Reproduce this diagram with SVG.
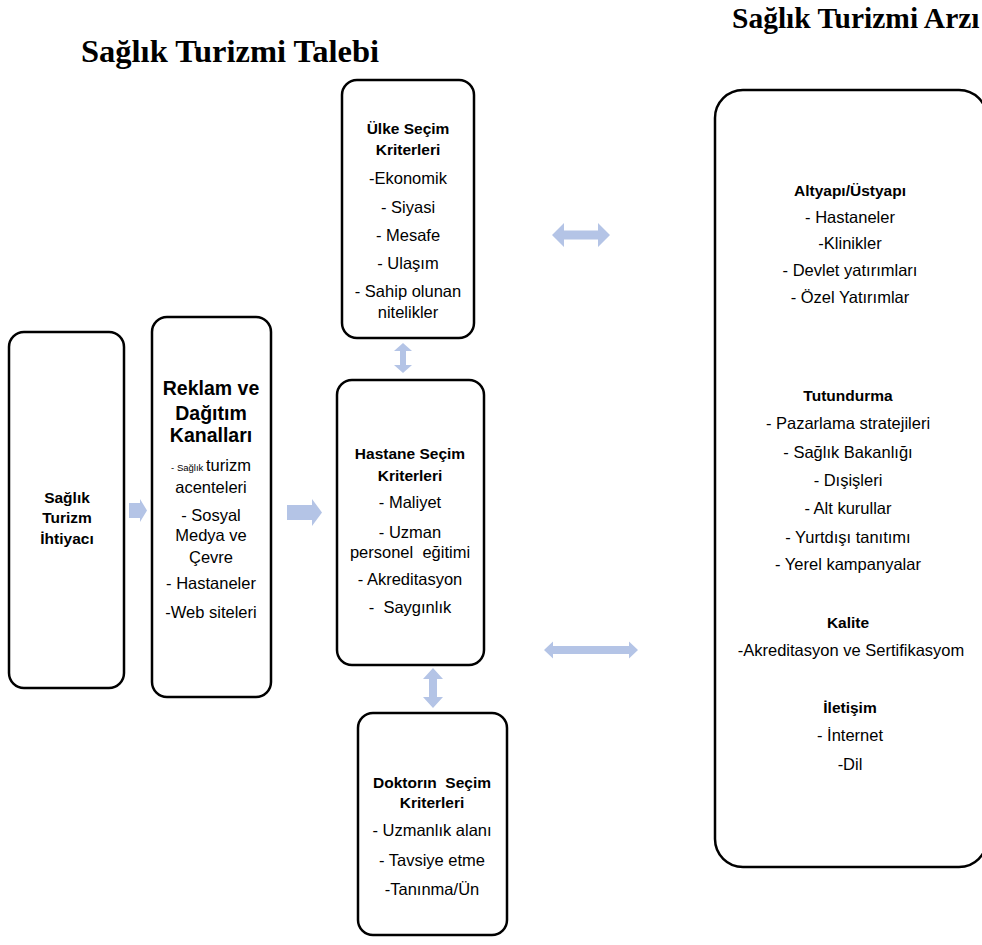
<svg xmlns="http://www.w3.org/2000/svg" width="982" height="945" viewBox="0 0 982 945">
<style>
.box{fill:#fff;stroke:#000;stroke-width:2.5}
.t{font-family:"Liberation Sans",Arial,sans-serif;font-size:16.5px;text-anchor:middle;fill:#000}
.b{font-family:"Liberation Sans",Arial,sans-serif;font-size:15.5px;font-weight:bold;text-anchor:middle;fill:#000}
.bl{font-size:19.5px}
.h{font-family:"Liberation Serif","Times New Roman",serif;font-weight:bold;fill:#000}
.arr{fill:#B4C4E6}
</style>
<rect width="982" height="945" fill="#fff"/>
<text class="h" x="81" y="62" font-size="32.5">Sağlık Turizmi Talebi</text>
<text class="h" x="732" y="28" font-size="29.5">Sağlık Turizmi Arzı</text>

<g id="connectors">
<polygon class="arr" points="129,503 140,503 140,499 147,510.5 140,522 140,518 129,518"/>
<polygon class="arr" points="287,505 312,505 312,499 322,512.5 312,526 312,520 287,520"/>
<polygon class="arr" points="552,235 564,223 564,230.5 598,230.5 598,223 610,235 598,247 598,239.5 564,239.5 564,247"/>
<polygon class="arr" points="544,650 553,641.5 553,646 629,646 629,641.5 638,650 629,658.5 629,654 553,654 553,658.5"/>
<polygon class="arr" points="403,343 412,351 406,351 406,365 412,365 403,373 394,365 400,365 400,351 394,351"/>
<polygon class="arr" points="433,668 443,679 437,679 437,697 443,697 433,708 423,697 429,697 429,679 423,679"/>
</g>

<g id="ihtiyac">
<rect class="box" x="9" y="332" width="115" height="356" rx="15"/>
<text class="b" x="67" y="503">Sağlık</text>
<text class="b" x="67" y="523">Turizm</text>
<text class="b" x="67" y="544">İhtiyacı</text>
</g>

<g id="reklam">
<rect class="box" x="152" y="317" width="119" height="380" rx="15"/>
<text class="b bl" x="211" y="395">Reklam ve</text>
<text class="b bl" x="211" y="420">Dağıtım</text>
<text class="b bl" x="211" y="442">Kanalları</text>
<text class="t" x="211" y="471"><tspan font-size="9.5">- Sağlık </tspan>turizm</text>
<text class="t" x="211" y="493">acenteleri</text>
<text class="t" x="211" y="521">- Sosyal</text>
<text class="t" x="211" y="541">Medya ve</text>
<text class="t" x="211" y="563">Çevre</text>
<text class="t" x="211" y="589">- Hastaneler</text>
<text class="t" x="211" y="618">-Web siteleri</text>
</g>

<g id="ulke">
<rect class="box" x="342" y="80" width="132" height="258" rx="15"/>
<text class="b" x="408" y="134">Ülke Seçim</text>
<text class="b" x="408" y="155">Kriterleri</text>
<text class="t" x="408" y="184">-Ekonomik</text>
<text class="t" x="408" y="213">- Siyasi</text>
<text class="t" x="408" y="241">- Mesafe</text>
<text class="t" x="408" y="269">- Ulaşım</text>
<text class="t" x="408" y="297">- Sahip olunan</text>
<text class="t" x="408" y="318">nitelikler</text>
</g>

<g id="hastane">
<rect class="box" x="337" y="380" width="147" height="285" rx="15"/>
<text class="b" x="410" y="459">Hastane Seçim</text>
<text class="b" x="410" y="481">Kriterleri</text>
<text class="t" x="410" y="508">- Maliyet</text>
<text class="t" x="410" y="538">- Uzman</text>
<text class="t" x="410" y="558" xml:space="preserve">personel  eğitimi</text>
<text class="t" x="410" y="585">- Akreditasyon</text>
<text class="t" x="410" y="613" xml:space="preserve">-  Saygınlık</text>
</g>

<g id="doktor">
<rect class="box" x="358" y="713" width="149" height="222" rx="15"/>
<text class="b" x="432" y="788" xml:space="preserve">Doktorın  Seçim</text>
<text class="b" x="432" y="808">Kriterleri</text>
<text class="t" x="432" y="836">- Uzmanlık alanı</text>
<text class="t" x="432" y="866">- Tavsiye etme</text>
<text class="t" x="432" y="895">-Tanınma/Ün</text>
</g>

<g id="arz">
<rect class="box" x="715" y="90" width="272" height="777" rx="28"/>
<text class="b" x="850" y="196">Altyapı/Üstyapı</text>
<text class="t" x="850" y="223">- Hastaneler</text>
<text class="t" x="850" y="249">-Klinikler</text>
<text class="t" x="850" y="276">- Devlet yatırımları</text>
<text class="t" x="850" y="303">- Özel Yatırımlar</text>
<text class="b" x="848" y="401">Tutundurma</text>
<text class="t" x="848" y="429">- Pazarlama stratejileri</text>
<text class="t" x="848" y="458">- Sağlık Bakanlığı</text>
<text class="t" x="848" y="486">- Dışişleri</text>
<text class="t" x="848" y="514">- Alt kurullar</text>
<text class="t" x="848" y="543">- Yurtdışı tanıtımı</text>
<text class="t" x="848" y="570">- Yerel kampanyalar</text>
<text class="b" x="848" y="628">Kalite</text>
<text class="t" x="851" y="656">-Akreditasyon ve Sertifikasyom</text>
<text class="b" x="850" y="713">İletişim</text>
<text class="t" x="850" y="741">- İnternet</text>
<text class="t" x="850" y="770">-Dil</text>
</g>
</svg>
